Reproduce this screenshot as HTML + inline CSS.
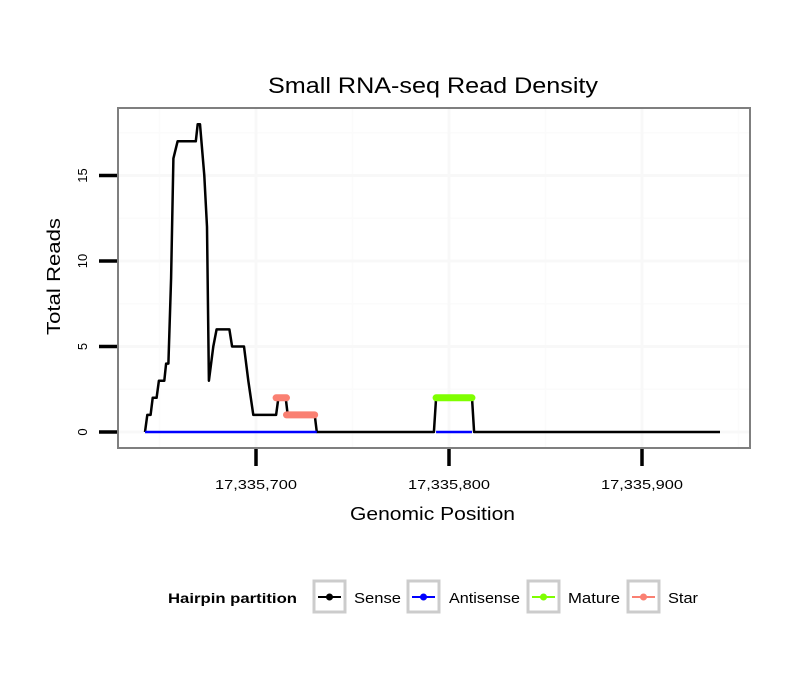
<!DOCTYPE html>
<html><head><meta charset="utf-8">
<style>
body{margin:0;background:#fff;}
svg text{font-family:"Liberation Sans",sans-serif;}
</style></head>
<body>
<svg id="chart" width="810" height="690" xmlns="http://www.w3.org/2000/svg">
<rect width="810" height="690" fill="#fff"/>
<text x="268" y="93" font-size="22" textLength="330" lengthAdjust="spacingAndGlyphs">Small RNA-seq Read Density</text>
<g id="grid"></g>
<g id="series"></g>
<rect x="118" y="108" width="632" height="340" fill="none" stroke="#7f7f7f" stroke-width="2"/>
<g id="axes"></g>
<text x="350" y="520" font-size="18" textLength="165" lengthAdjust="spacingAndGlyphs">Genomic Position</text>
<text transform="translate(60,335) rotate(-90)" font-size="18" textLength="117" lengthAdjust="spacingAndGlyphs">Total Reads</text>
<g>
<text x="168" y="603" font-size="14" font-weight="bold" textLength="129" lengthAdjust="spacingAndGlyphs">Hairpin partition</text>
<g>
<rect x="314" y="581" width="31" height="31" fill="#fff" stroke="#ccc" stroke-width="3"/>
<line x1="318" y1="597" x2="341" y2="597" stroke="#000" stroke-width="2"/><circle cx="329.5" cy="597" r="3.5" fill="#000"/>
<text x="354" y="603" font-size="15" textLength="47" lengthAdjust="spacingAndGlyphs">Sense</text></g>
<g>
<rect x="408" y="581" width="31" height="31" fill="#fff" stroke="#ccc" stroke-width="3"/>
<line x1="412" y1="597" x2="435" y2="597" stroke="#0000ff" stroke-width="2"/><circle cx="423.5" cy="597" r="3.5" fill="#0000ff"/>
<text x="449" y="603" font-size="15" textLength="71" lengthAdjust="spacingAndGlyphs">Antisense</text></g>
<g>
<rect x="528" y="581" width="31" height="31" fill="#fff" stroke="#ccc" stroke-width="3"/>
<line x1="532" y1="597" x2="555" y2="597" stroke="#7fff00" stroke-width="2"/><circle cx="543.5" cy="597" r="3.5" fill="#7fff00"/>
<text x="568" y="603" font-size="15" textLength="52" lengthAdjust="spacingAndGlyphs">Mature</text></g>
<g>
<rect x="628" y="581" width="31" height="31" fill="#fff" stroke="#ccc" stroke-width="3"/>
<line x1="632" y1="597" x2="655" y2="597" stroke="#fa8072" stroke-width="2"/><circle cx="643.5" cy="597" r="3.5" fill="#fa8072"/>
<text x="668" y="603" font-size="15" textLength="30" lengthAdjust="spacingAndGlyphs">Star</text></g>
</g>
</svg>
<script>
// positions are bp offset from 17,335,000
const sensePos = [642.5,643.7,645.4,646.5,648.5,649.7,652.5,653.4,654.6,656,657.2,659.4,668.8,669.8,671,673.2,674.6,675.6,677.9,679.6,686.2,687.6,693.8,696,698.6,710.4,711.6,715.4,716.4,730.4,731.5,792.2,793.3,811.9,813,940.4];
const senseVal = [0,1,1,2,2,3,3,4,4,9,16,17,17,18,18,15,12,3,5,6,6,5,5,3,1,1,2,2,1,1,0,0,2,2,0,0];
const antisenseSegs = [[642.5,731.5],[793.3,811.9]];
const matureSegs = [[793.3,811.9,2]];
const starSegs = [[710.4,715.8,2],[715.8,730.4,1]];
const xTicks = [700,800,900];
const xTickLabels = ["17,335,700","17,335,800","17,335,900"];
const yTicks = [0,5,10,15];
const xMinor = [650,750,850,950];
const yMinor = [2.5,7.5,12.5,17.5];

const X = v => 256 + (v-700)*1.93;
const Y = v => 432 - v*17.1;
const NS = "http://www.w3.org/2000/svg";
function mk(tag, attrs, parent){const e=document.createElementNS(NS,tag);for(const k in attrs)e.setAttribute(k,attrs[k]);parent.appendChild(e);return e;}
const grid=document.getElementById('grid'), series=document.getElementById('series'), axes=document.getElementById('axes');
yMinor.forEach(v=>{const l=mk('line',{x1:119,x2:749,y1:Y(v),y2:Y(v),stroke:'#fbfbfb','stroke-width':1.5},grid);

});
xMinor.forEach(v=>{const l=mk('line',{x1:X(v),x2:X(v),y1:109,y2:447,stroke:'#fbfbfb','stroke-width':1.5},grid);

});
yTicks.forEach(v=>{const l=mk('line',{x1:119,x2:749,y1:Y(v),y2:Y(v),stroke:'#f8f8f8','stroke-width':3},grid);


const t=mk('line',{x1:99,x2:117,y1:Y(v),y2:Y(v),stroke:'#000','stroke-width':3.5},axes);


const tx=mk('text',{transform:`translate(87,${Y(v)}) rotate(-90)`,'font-size':13,'text-anchor':'middle'},axes);
tx.textContent=v;

});
xTicks.forEach((v,i)=>{const l=mk('line',{x1:X(v),x2:X(v),y1:109,y2:447,stroke:'#f8f8f8','stroke-width':3},grid);


const t=mk('line',{x1:X(v),x2:X(v),y1:449,y2:466,stroke:'#000','stroke-width':3.5},axes);


const tx=mk('text',{x:X(v)-41,y:489,'font-size':13,textLength:82,lengthAdjust:'spacingAndGlyphs'},axes);
tx.textContent=xTickLabels[i];

});
const pts=sensePos.map((p,i)=>X(p).toFixed(1)+','+Y(senseVal[i]).toFixed(1)).join(' ');
const sl=mk('polyline',{points:pts,fill:'none',stroke:'#000','stroke-width':2.5,'stroke-linejoin':'round'},series);


antisenseSegs.forEach(s=>{const l=mk('line',{x1:X(s[0]),x2:X(s[1]),y1:Y(0),y2:Y(0),stroke:'#0000ff','stroke-width':2.5},series);

});
starSegs.forEach(s=>{const l=mk('line',{x1:X(s[0]),x2:X(s[1]),y1:Y(s[2]),y2:Y(s[2]),stroke:'#fa8072','stroke-width':7,'stroke-linecap':'round'},series);

});
matureSegs.forEach(s=>{const l=mk('line',{x1:X(s[0]),x2:X(s[1]),y1:Y(s[2]),y2:Y(s[2]),stroke:'#7fff00','stroke-width':7,'stroke-linecap':'round'},series);

});
</script>
</body></html>
